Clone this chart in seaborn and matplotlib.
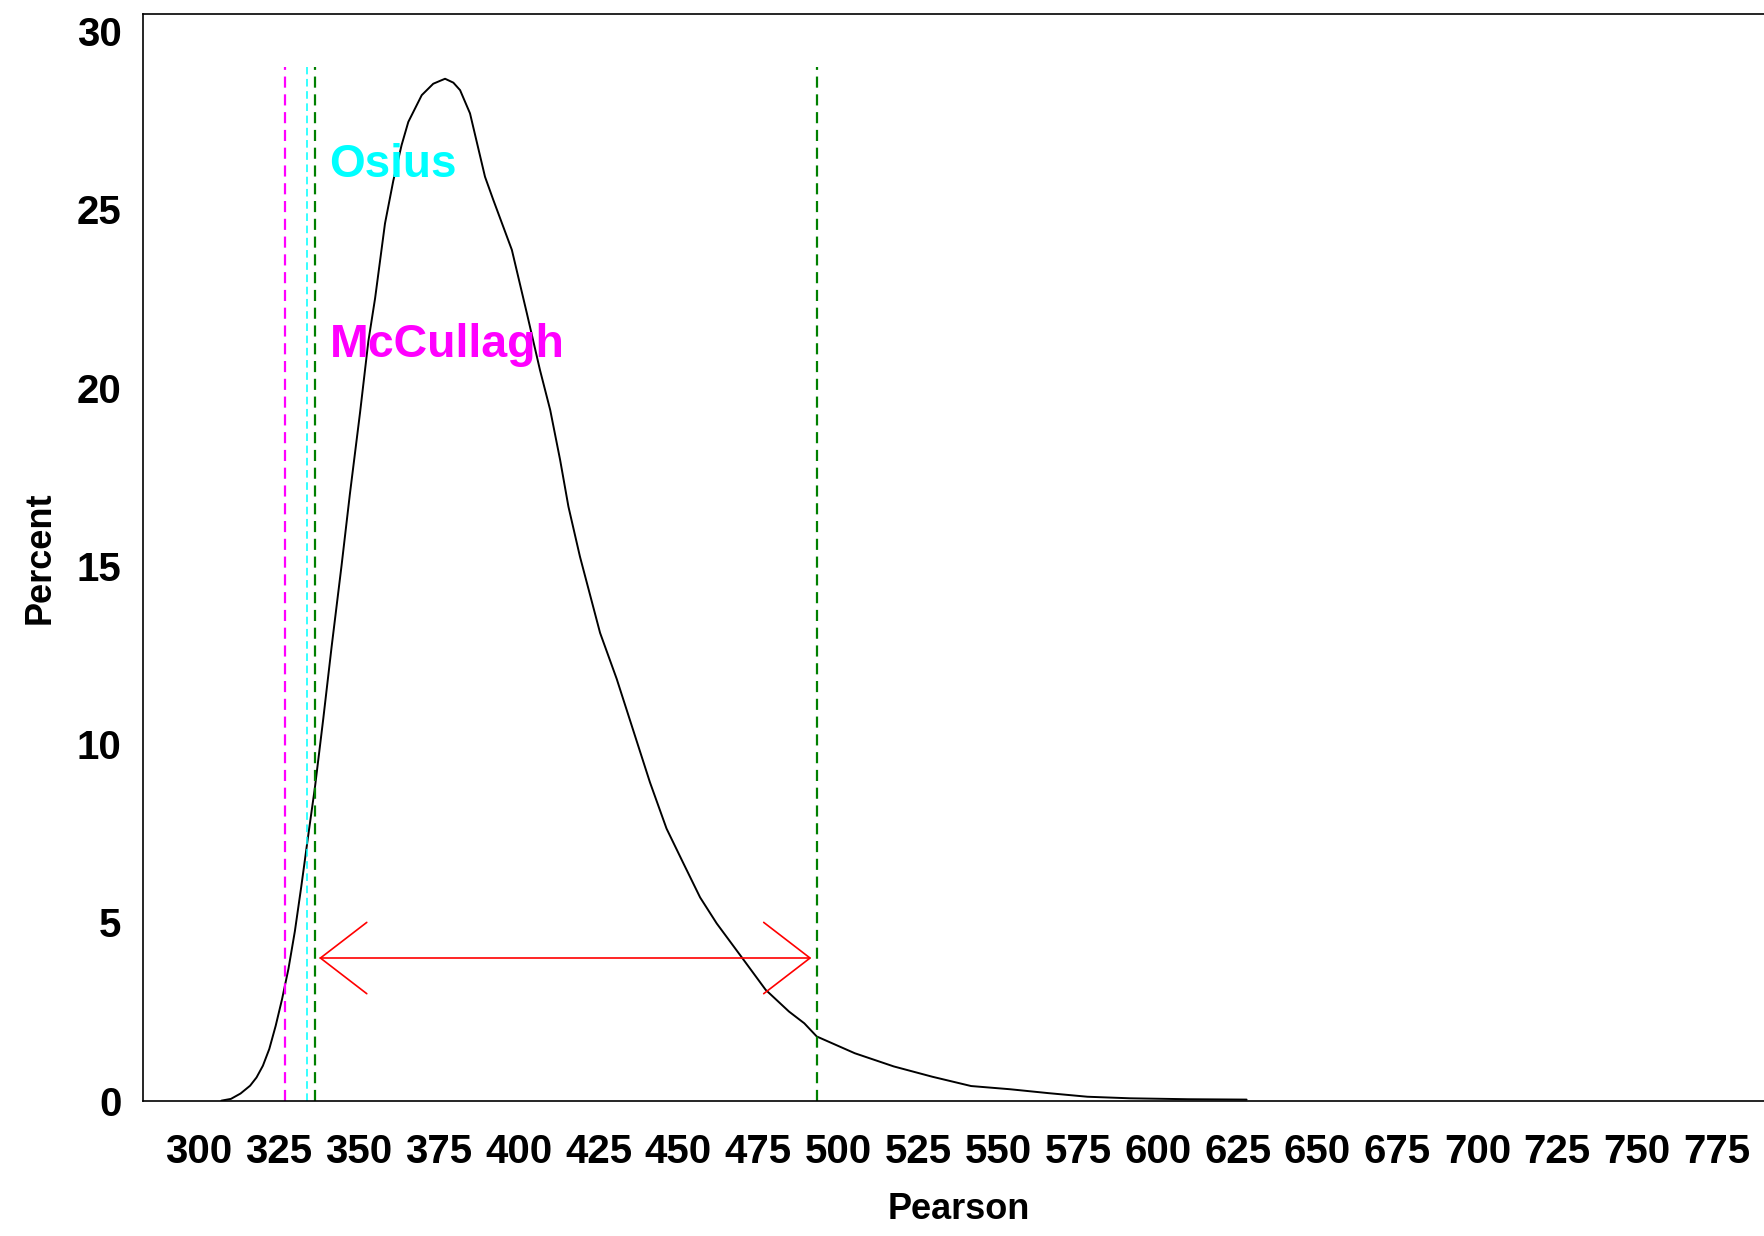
import matplotlib
matplotlib.use("Agg")
import matplotlib.pyplot as plt
import seaborn as sns
import pandas as pd

# ---- data ----
pearson = [307, 310, 313, 316, 318, 320, 322, 324, 326, 328, 330, 332, 334.2, 336.3,
           338.9, 341.5, 344.6, 347.2, 350.4, 353.0, 355.1, 358.2, 360.8, 363.4, 365.5,
           369.7, 373.3, 375.4, 377.0, 379.6, 381.7, 384.8, 389.5, 392.1, 397.9,
           402.6, 406.7, 409.9, 413.0, 415.6, 419.2, 425.5, 430.7, 435.9, 441.1,
           446.3, 451.5, 456.8, 462.0, 470.0, 477.3, 484.6, 489.4, 493.3, 505.2,
           517.4, 529.5, 541.6, 553.8, 565.9, 578.0, 591.4, 609.6, 627.8]
percent = [0.0, 0.05, 0.2, 0.42, 0.65, 0.98, 1.45, 2.1, 2.85, 3.7, 4.75, 6.0, 7.45, 8.8,
           10.72, 12.73, 15.0, 17.0, 19.3, 21.3, 22.5, 24.6, 25.8, 26.8, 27.45,
           28.2, 28.52, 28.6, 28.66, 28.55, 28.34, 27.69, 25.91, 25.26, 23.86,
           22.08, 20.49, 19.37, 17.97, 16.66, 15.26, 13.12, 11.83, 10.38, 8.93,
           7.63, 6.67, 5.7, 4.97, 4.0, 3.11, 2.5, 2.17, 1.8, 1.33,
           0.96, 0.67, 0.41, 0.32, 0.21, 0.11, 0.066, 0.04, 0.03]

mccullagh_x = 326.9
osius_x = 333.9
ci_low = 336.3
ci_high = 493.3
vline_top = 29.0

arrow_y = 4.0
arrow_left = 338.0
arrow_right = 491.2
arrow_head_len = 14.5
arrow_head_half = 1.0

x_ticks = list(range(300, 800, 25))
y_ticks = [0, 5, 10, 15, 20, 25, 30]

df = pd.DataFrame({"Pearson": pearson, "Percent": percent})

sns.set_theme(style="white")
plt.rcParams["font.family"] = ["Liberation Sans", "DejaVu Sans"]
plt.rcParams["text.color"] = "black"
plt.rcParams["axes.labelcolor"] = "black"
plt.rcParams["xtick.color"] = "black"
plt.rcParams["ytick.color"] = "black"

fig = plt.figure(figsize=(17.64, 12.36), dpi=100)
ax = fig.add_axes([0.0811, 0.1095, 0.9189, 0.8790])

sns.lineplot(data=df, x="Pearson", y="Percent", ax=ax, color="black", linewidth=1.4,
             estimator=None, sort=True)

ax.vlines(mccullagh_x, 0, vline_top, colors="#FF00FF", linestyles=(0, (5, 3)), linewidth=1.6)
ax.vlines(osius_x, 0, vline_top, colors="#00FFFF", linestyles=(0, (5, 3)), linewidth=1.1)
ax.vlines([ci_low, ci_high], 0, vline_top, colors="#008000", linestyles=(0, (5, 3)), linewidth=1.6)

# double-headed arrow with open heads
red = "#FF0000"
ax.plot([arrow_left, arrow_right], [arrow_y, arrow_y], color=red, linewidth=1.2)
ax.plot([arrow_left + arrow_head_len, arrow_left, arrow_left + arrow_head_len],
        [arrow_y + arrow_head_half, arrow_y, arrow_y - arrow_head_half], color=red, linewidth=1.2)
ax.plot([arrow_right - arrow_head_len, arrow_right, arrow_right - arrow_head_len],
        [arrow_y + arrow_head_half, arrow_y, arrow_y - arrow_head_half], color=red, linewidth=1.2)

ax.text(340.8, 25.9, "Osius", color="#00FFFF", fontsize=33, fontweight="bold",
        ha="left", va="baseline")
ax.text(340.8, 20.86, "McCullagh", color="#FF00FF", fontsize=33.5, fontweight="bold",
        ha="left", va="baseline")

ax.set_xlim(282.5, 789.7)
ax.set_ylim(0, 30.47)
ax.set_xticks(x_ticks)
ax.set_yticks(y_ticks)
ax.tick_params(axis="both", which="major", direction="out", length=7.5, width=1.2,
               labelsize=29, color="black", labelcolor="black")
ax.tick_params(axis="x", pad=16)
ax.tick_params(axis="y", pad=8)
for lbl in ax.get_xticklabels() + ax.get_yticklabels():
    lbl.set_fontweight("bold")

ax.set_xlabel("Pearson", fontsize=26, fontweight="bold", color="black")
ax.xaxis.set_label_coords(0.503, -0.084)
ax.set_ylabel("Percent", fontsize=26, fontweight="bold", labelpad=14, color="black")

for side in ["left", "top", "bottom"]:
    ax.spines[side].set_color("black")
    ax.spines[side].set_linewidth(1.2)
ax.spines["right"].set_visible(False)

fig.savefig("out.png", dpi=100)
